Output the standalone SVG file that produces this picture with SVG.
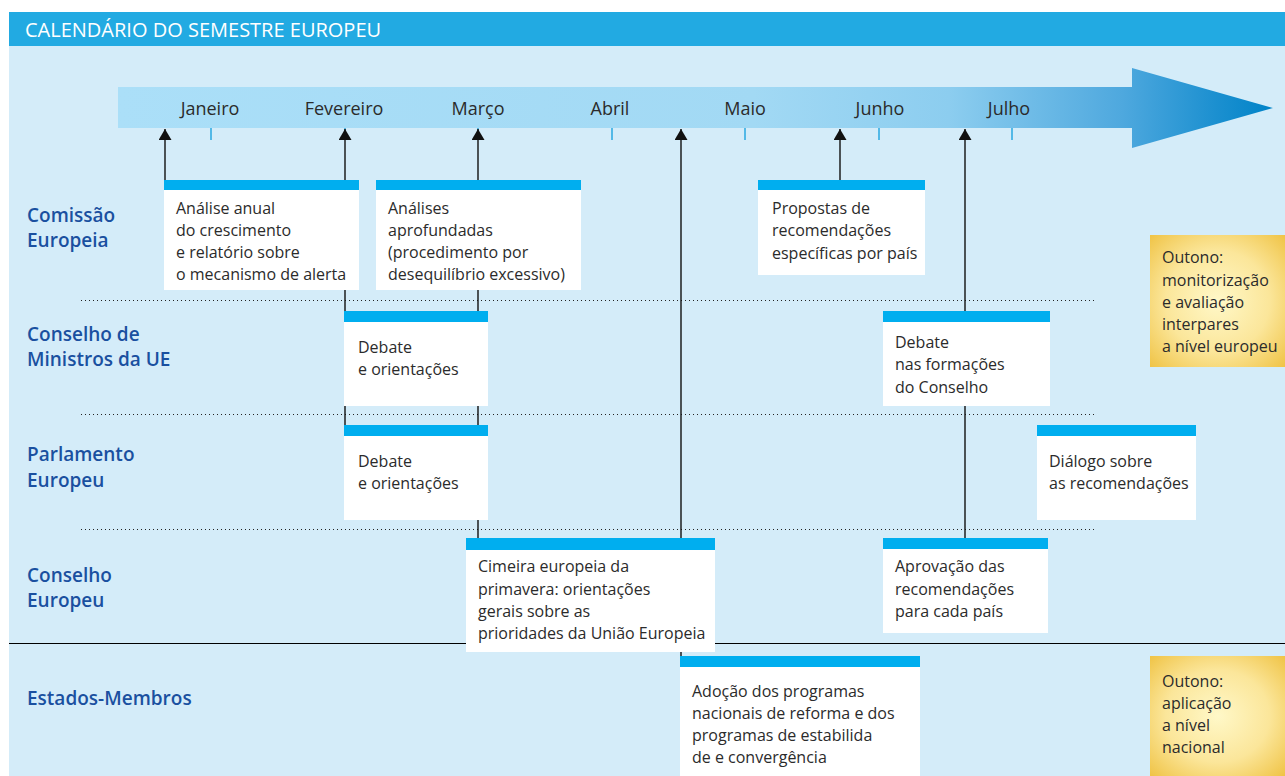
<svg xmlns="http://www.w3.org/2000/svg" width="1285" height="776" viewBox="0 0 1285 776">
<defs>
<linearGradient id="barg" gradientUnits="userSpaceOnUse" x1="118" y1="0" x2="1273" y2="0">
<stop offset="0" stop-color="#abdff8"/>
<stop offset="0.55" stop-color="#a2d9f4"/>
<stop offset="0.72" stop-color="#8ccdef"/>
<stop offset="0.87" stop-color="#4ea8de"/>
<stop offset="0.95" stop-color="#1c90d0"/>
<stop offset="1" stop-color="#0083c8"/>
</linearGradient>
<radialGradient id="yel" cx="0.5" cy="0.5" r="0.7">
<stop offset="0" stop-color="#fff8c8"/>
<stop offset="0.55" stop-color="#fbe69a"/>
<stop offset="1" stop-color="#f0c447"/>
</radialGradient>
<marker id="ah" markerUnits="userSpaceOnUse" markerWidth="11" markerHeight="13" refX="11" refY="6.5" orient="auto">
<path d="M0,0 L11,6.5 L0,13 Z" fill="#111"/>
</marker>
<style>
.t{font-family:"Open Sans","Noto Sans",sans-serif;font-size:16px;fill:#2b2b2b;}
.m{font-family:"Open Sans","Noto Sans",sans-serif;font-size:18px;fill:#2b2b2b;text-anchor:middle;}
.lab{font-family:"Open Sans","Noto Sans",sans-serif;font-size:19px;fill:#1a50a0;font-weight:600;}
.hd{fill:#00aeef;}
.bd{fill:#ffffff;}
.dot{stroke:#222;stroke-width:1;stroke-dasharray:1 3;fill:none;}
.c{stroke:#111;stroke-width:1.4;fill:none;}
.tick{stroke:#29a8e0;stroke-width:1.5;}
</style>
</defs>
<rect x="0" y="0" width="1285" height="776" fill="#ffffff"/>
<rect x="9" y="46" width="1276" height="730" fill="#d4ecf9"/>
<g id="title">
<rect x="9" y="12" width="1276" height="34" fill="#22aae2"/>
<text x="25" y="37" font-family="Open Sans, Noto Sans, sans-serif" font-size="20" fill="#ffffff">CALENDÁRIO DO SEMESTRE EUROPEU</text>
</g>
<g id="timeline">
<path d="M118,87 H1132 V68 L1273,108 L1132,148 V128 H118 Z" fill="url(#barg)"/>
<line class="tick" x1="211" y1="128" x2="211" y2="140"/>
<line class="tick" x1="345" y1="128" x2="345" y2="140"/>
<line class="tick" x1="478" y1="128" x2="478" y2="140"/>
<line class="tick" x1="612" y1="128" x2="612" y2="140"/>
<line class="tick" x1="745" y1="128" x2="745" y2="140"/>
<line class="tick" x1="879" y1="128" x2="879" y2="140"/>
<line class="tick" x1="1012" y1="128" x2="1012" y2="140"/>
<text class="m" x="210" y="115">Janeiro</text>
<text class="m" x="344" y="115">Fevereiro</text>
<text class="m" x="478" y="115">Março</text>
<text class="m" x="610" y="115">Abril</text>
<text class="m" x="745" y="115">Maio</text>
<text class="m" x="880" y="115">Junho</text>
<text class="m" x="1009" y="115">Julho</text>
</g>
<g id="separators">
<line class="dot" x1="81" y1="300.5" x2="1095" y2="300.5"/>
<line class="dot" x1="81" y1="414.5" x2="1095" y2="414.5"/>
<line class="dot" x1="81" y1="529.5" x2="1095" y2="529.5"/>
<line x1="9" y1="643.5" x2="1285" y2="643.5" stroke="#000" stroke-width="1.2"/>
</g>
<g id="labels">
<text class="lab" x="27" y="222">Comissão</text>
<text class="lab" x="27" y="247">Europeia</text>
<text class="lab" x="27" y="341">Conselho de</text>
<text class="lab" x="27" y="366">Ministros da UE</text>
<text class="lab" x="27" y="461">Parlamento</text>
<text class="lab" x="27" y="487">Europeu</text>
<text class="lab" x="27" y="582">Conselho</text>
<text class="lab" x="27" y="607">Europeu</text>
<text class="lab" x="27" y="705">Estados-Membros</text>
</g>
<g id="connectors">
<line class="c" x1="165" y1="180" x2="165" y2="129" marker-end="url(#ah)"/>
<line class="c" x1="345" y1="425" x2="345" y2="129" marker-end="url(#ah)"/>
<line class="c" x1="478" y1="538" x2="478" y2="129" marker-end="url(#ah)"/>
<line class="c" x1="681" y1="656" x2="681" y2="129" marker-end="url(#ah)"/>
<line class="c" x1="840" y1="180" x2="840" y2="129" marker-end="url(#ah)"/>
<line class="c" x1="965" y1="538" x2="965" y2="129" marker-end="url(#ah)"/>
</g>
<g id="analise">
<rect class="bd" x="164" y="180" width="195" height="110"/>
<rect class="hd" x="164" y="180" width="195" height="10"/>
<text class="t" x="176" y="214">Análise anual</text>
<text class="t" x="176" y="236">do crescimento</text>
<text class="t" x="176" y="258">e relatório sobre</text>
<text class="t" x="176" y="280">o mecanismo de alerta</text>
</g>
<g id="analises">
<rect class="bd" x="376" y="180" width="205" height="110"/>
<rect class="hd" x="376" y="180" width="205" height="10"/>
<text class="t" x="388" y="214">Análises</text>
<text class="t" x="388" y="236">aprofundadas</text>
<text class="t" x="388" y="258">(procedimento por</text>
<text class="t" x="388" y="280">desequilíbrio excessivo)</text>
</g>
<g id="propostas">
<rect class="bd" x="758" y="180" width="167" height="95"/>
<rect class="hd" x="758" y="180" width="167" height="10"/>
<text class="t" x="772" y="214">Propostas de</text>
<text class="t" x="772" y="236">recomendações</text>
<text class="t" x="772" y="259">específicas por país</text>
</g>
<g id="debate-conselho">
<rect class="bd" x="344" y="311" width="144" height="95"/>
<rect class="hd" x="344" y="311" width="144" height="11"/>
<text class="t" x="358" y="353">Debate</text>
<text class="t" x="358" y="375">e orientações</text>
</g>
<g id="debate-parlamento">
<rect class="bd" x="344" y="425" width="144" height="95"/>
<rect class="hd" x="344" y="425" width="144" height="11"/>
<text class="t" x="358" y="467">Debate</text>
<text class="t" x="358" y="489">e orientações</text>
</g>
<g id="debate-formacoes">
<rect class="bd" x="883" y="311" width="167" height="95"/>
<rect class="hd" x="883" y="311" width="167" height="11"/>
<text class="t" x="895" y="348">Debate</text>
<text class="t" x="895" y="370">nas formações</text>
<text class="t" x="895" y="393">do Conselho</text>
</g>
<g id="dialogo">
<rect class="bd" x="1037" y="425" width="159" height="95"/>
<rect class="hd" x="1037" y="425" width="159" height="11"/>
<text class="t" x="1049" y="467">Diálogo sobre</text>
<text class="t" x="1049" y="489">as recomendações</text>
</g>
<g id="cimeira">
<rect class="bd" x="466" y="538" width="249" height="114"/>
<rect class="hd" x="466" y="538" width="249" height="12"/>
<text class="t" x="478" y="572">Cimeira europeia da</text>
<text class="t" x="478" y="595">primavera: orientações</text>
<text class="t" x="478" y="617">gerais sobre as</text>
<text class="t" x="478" y="639">prioridades da União Europeia</text>
</g>
<g id="aprovacao">
<rect class="bd" x="883" y="538" width="165" height="95"/>
<rect class="hd" x="883" y="538" width="165" height="11"/>
<text class="t" x="895" y="572">Aprovação das</text>
<text class="t" x="895" y="595">recomendações</text>
<text class="t" x="895" y="617">para cada país</text>
</g>
<g id="adocao">
<rect class="bd" x="680" y="656" width="240" height="120"/>
<rect class="hd" x="680" y="656" width="240" height="11"/>
<text class="t" x="692" y="697">Adoção dos programas</text>
<text class="t" x="692" y="719">nacionais de reforma e dos</text>
<text class="t" x="692" y="741">programas de estabilida</text>
<text class="t" x="692" y="763">de e convergência</text>
</g>
<g id="outono-europeu">
<rect x="1150" y="235" width="135" height="132" fill="url(#yel)"/>
<text class="t" x="1162" y="263">Outono:</text>
<text class="t" x="1162" y="286">monitorização</text>
<text class="t" x="1162" y="308">e avaliação</text>
<text class="t" x="1162" y="330">interpares</text>
<text class="t" x="1162" y="352">a nível europeu</text>
</g>
<g id="outono-nacional">
<rect x="1150" y="656" width="135" height="120" fill="url(#yel)"/>
<text class="t" x="1162" y="687">Outono:</text>
<text class="t" x="1162" y="709">aplicação</text>
<text class="t" x="1162" y="731">a nível</text>
<text class="t" x="1162" y="753">nacional</text>
</g>
</svg>
